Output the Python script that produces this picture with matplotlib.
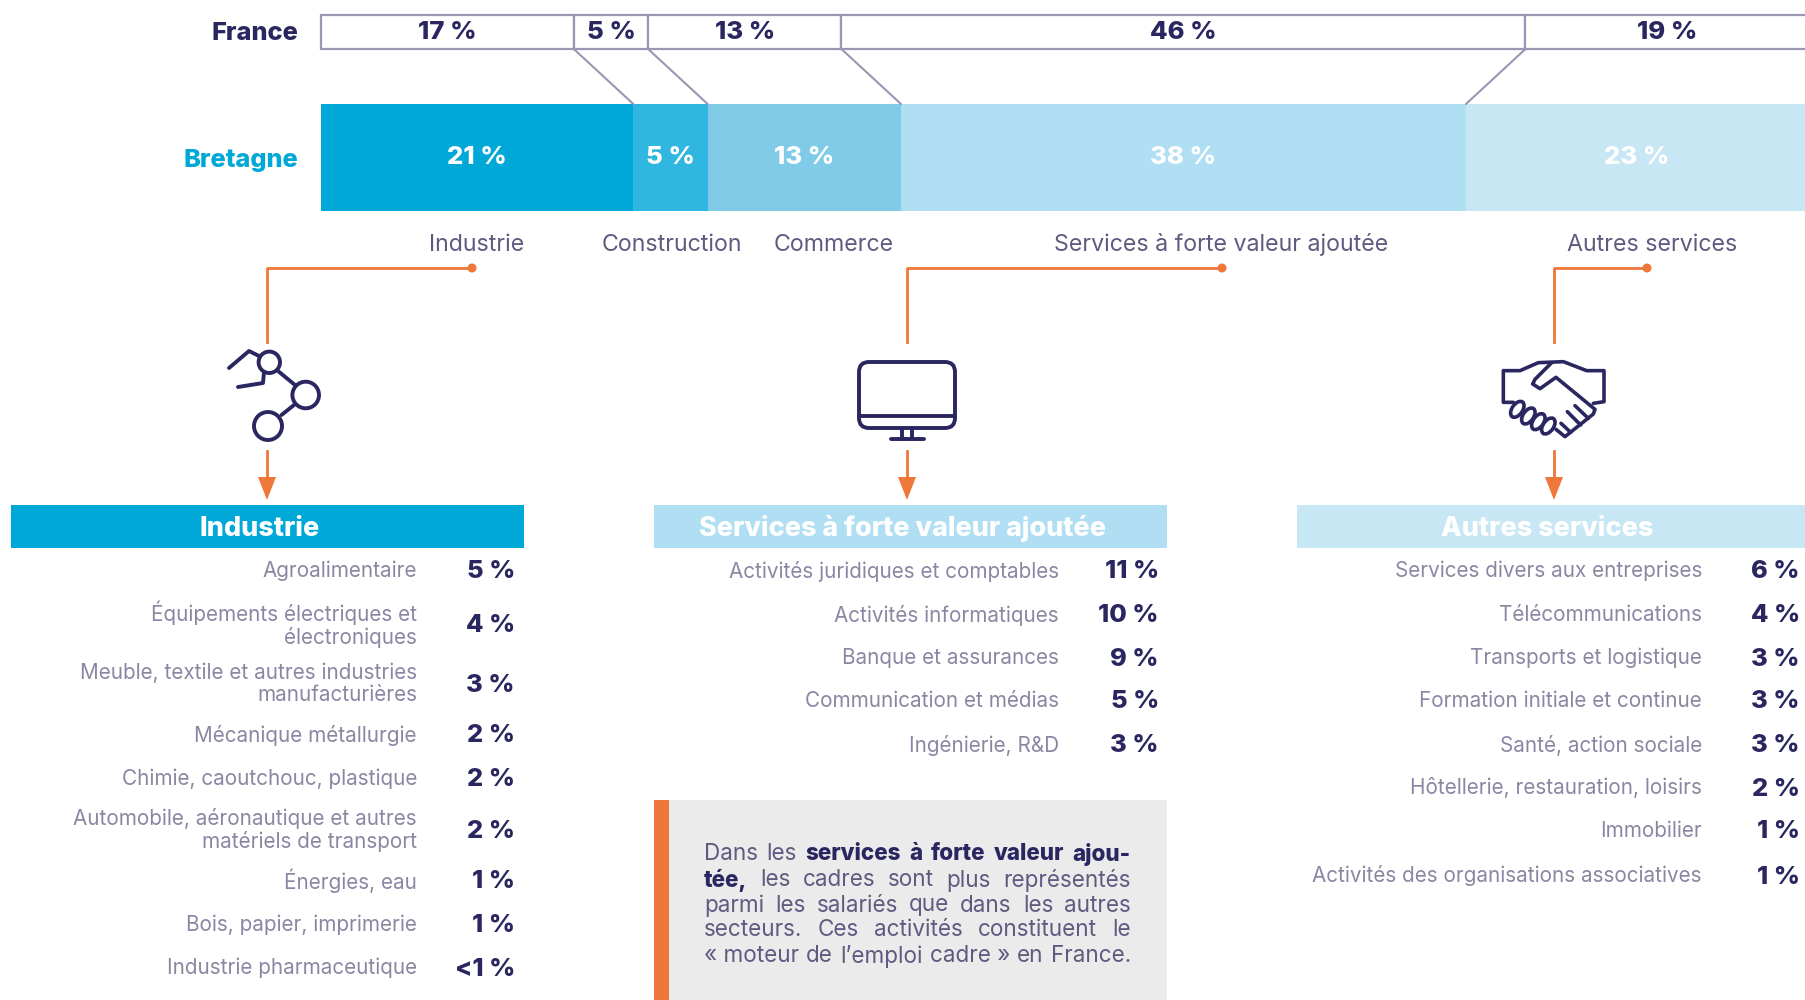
import matplotlib
matplotlib.use("Agg")
import matplotlib.pyplot as plt
from matplotlib.patches import Rectangle, Circle, FancyBboxPatch, Ellipse, Polygon

plt.rcParams["font.family"] = ["Inter", "DejaVu Sans"]

sectors = ["Industrie", "Construction", "Commerce", "Services à forte valeur ajoutée", "Autres services"]
france = [17, 5, 13, 46, 19]
bretagne = [21, 5, 13, 38, 23]
bretagne_colors = ["#00a8d8", "#2fb7e1", "#7fcbe8", "#b0dff3", "#c8e7f5"]

industrie_labels = ["Agroalimentaire", "Équipements électriques et\nélectroniques",
                    "Meuble, textile et autres industries\nmanufacturières", "Mécanique métallurgie",
                    "Chimie, caoutchouc, plastique", "Automobile, aéronautique et autres\nmatériels de transport",
                    "Énergies, eau", "Bois, papier, imprimerie", "Industrie pharmaceutique"]
industrie_values = ["5 %", "4 %", "3 %", "2 %", "2 %", "2 %", "1 %", "1 %", "<1 %"]
services_labels = ["Activités juridiques et comptables", "Activités informatiques", "Banque et assurances",
                   "Communication et médias", "Ingénierie, R&D"]
services_values = ["11 %", "10 %", "9 %", "5 %", "3 %"]
autres_labels = ["Services divers aux entreprises", "Télécommunications", "Transports et logistique",
                 "Formation initiale et continue", "Santé, action sociale", "Hôtellerie, restauration, loisirs",
                 "Immobilier", "Activités des organisations associatives"]
autres_values = ["6 %", "4 %", "3 %", "3 %", "3 %", "2 %", "1 %", "1 %"]

DARK = "#2a2660"
GREY = "#8a87a3"
MID = "#5f5b80"
ORANGE = "#f0773a"
EDGE = "#9a96b3"

fig = plt.figure(figsize=(18.06, 10), dpi=100)

# axe en pixels pour tout ce qui est mise en page
ax = fig.add_axes([0, 0, 1, 1])
ax.set_xlim(0, 1806)
ax.set_ylim(1000, 0)
ax.axis("off")

# barres empilees : 0-100 % couvre 321 a 1808 px
bx = fig.add_axes([321 / 1806, 0, 1487 / 1806, 1])
bx.set_xlim(0, 100)
bx.set_ylim(1000, 0)
bx.axis("off")
bx.patch.set_alpha(0)

left = 0
for v in france:
    bx.barh(32, v, left=left, height=34, color="white", edgecolor=EDGE, linewidth=1.6, clip_on=False)
    bx.text(left + v / 2, 32.5, f"{v} %", ha="center", va="center", fontsize=18.5, fontweight=800, color=DARK)
    left += v
left = 0
for v, c in zip(bretagne, bretagne_colors):
    bx.barh(157.5, v, left=left, height=107, color=c, linewidth=0)
    bx.text(left + v / 2, 157, f"{v} %", ha="center", va="center", fontsize=18.5, fontweight=800, color="white")
    left += v

# liens entre les deux barres
cf = 0
cb = 0
for vf, vb in zip(france[:-1], bretagne[:-1]):
    cf += vf
    cb += vb
    bx.plot([cf, cb], [49, 104], color=EDGE, linewidth=1.5, solid_capstyle="round")

ax.text(298, 34, "France", ha="right", va="center", fontsize=18.3, fontweight=800, color=DARK)
ax.text(298, 161, "Bretagne", ha="right", va="center", fontsize=18.3, fontweight=800, color="#00a8d8")

sector_x = [477, 672, 834, 1221, 1652]
for name, x in zip(sectors, sector_x):
    ax.text(x, 245, name, ha="center", va="center", fontsize=16.7, color=MID)


def connector(x0, x1):
    ax.plot([x1, x0, x0], [268, 268, 342], color=ORANGE, linewidth=2)
    ax.add_patch(Circle((x1, 268), 4.5, color=ORANGE, lw=0))
    ax.plot([x0, x0], [451, 480], color=ORANGE, linewidth=2)
    ax.add_patch(Polygon([(x0 - 9, 477), (x0 + 9, 477), (x0, 500)], closed=True, color=ORANGE, lw=0))


connector(267, 472)
connector(907, 1222)
connector(1554, 1647)


def stroke(pts, lw=2.8):
    ax.plot([p[0] for p in pts], [p[1] for p in pts], color=DARK, linewidth=lw,
            solid_capstyle="round", solid_joinstyle="round")


def circle(x, y, r):
    ax.add_patch(Circle((x, y), r, fill=False, edgecolor=DARK, linewidth=2.8))


# icone industrie
circle(269.3, 362.3, 10.7)
circle(305.7, 395, 13.3)
circle(268, 426, 14)
stroke([(278, 371), (295, 385)])
stroke([(281.5, 415), (294, 405)])
stroke([(229, 368), (249, 351), (259, 356)])
stroke([(238, 387), (263, 383), (264, 372)])

# icone ecran
ax.add_patch(FancyBboxPatch((859, 362), 96, 66, boxstyle="round,pad=0,rounding_size=10", fill=False,
                            edgecolor=DARK, linewidth=2.8))
stroke([(859, 416), (955, 416)])
stroke([(901.7, 428), (901.7, 439)])
stroke([(912.3, 428), (912.3, 439)])
stroke([(891, 439), (924, 439)])


# icone poignee de main : repere du zoom, 3x
def hs(pts):
    stroke([(1480 + x / 3, 340 + y / 3) for x, y in pts], lw=2.6)


hs([(100, 187), (70, 187), (70, 92), (120, 92), (175, 68), (250, 65), (320, 92), (372, 92), (372, 185), (340, 190)])
hs([(215, 68), (165, 118), (158, 132), (180, 146), (228, 112), (345, 208), (340, 222), (255, 290), (228, 268)])
hs([(285, 197), (325, 235)])
hs([(262, 215), (302, 255)])
hs([(243, 250), (272, 277)])
for fx, fy in [(112, 208), (145, 228), (175, 245), (205, 258)]:
    ax.add_patch(Ellipse((1480 + fx / 3, 340 + fy / 3), 10.5, 18, angle=35, fill=False, edgecolor=DARK, linewidth=2.6))


def column(box_x, title, title_x, color, labels, values, rows, label_right, value_right, box_right):
    ax.add_patch(Rectangle((box_x, 505), box_right - box_x, 43, color=color, lw=0))
    ax.text(title_x, 529, title, ha="center", va="center", fontsize=19.4, fontweight=800, color="white")
    for lab, val, y in zip(labels, values, rows):
        ax.text(label_right, y + 1, lab, ha="right", va="center", fontsize=14.9, color=GREY, linespacing=1.1)
        ax.text(value_right, y + 2, val, ha="right", va="center", fontsize=18.3, fontweight=800, color=DARK)


column(11, "Industrie", 260, bretagne_colors[0], industrie_labels, industrie_values,
       [570, 623, 683, 734, 778, 829, 880, 924, 967], 417, 515, 524)
column(654, "Services à forte valeur ajoutée", 903, bretagne_colors[3], services_labels, services_values,
       [570, 614, 657, 700, 744], 1059, 1159, 1167)
column(1297, "Autres services", 1547, bretagne_colors[4], autres_labels, autres_values,
       [570, 614, 657, 700, 744, 787, 830, 875], 1702, 1800, 1806)

# encadre
ax.add_patch(Rectangle((654, 800), 513, 200, color="#ebebec", lw=0))
ax.add_patch(Rectangle((654, 800), 15, 200, color=ORANGE, lw=0))

callout = [
    ([("Dans", 0), ("les", 0), ("services", 1), ("à", 1), ("forte", 1), ("valeur", 1), ("ajou-", 1)], 852),
    ([("tée,", 1), ("les", 0), ("cadres", 0), ("sont", 0), ("plus", 0), ("représentés", 0)], 878),
    ([("parmi", 0), ("les", 0), ("salariés", 0), ("que", 0), ("dans", 0), ("les", 0), ("autres", 0)], 903),
    ([("secteurs.", 0), ("Ces", 0), ("activités", 0), ("constituent", 0), ("le", 0)], 928),
    ([("« moteur", 0), ("de", 0), ("l’emploi", 0), ("cadre »", 0), ("en", 0), ("France.", 0)], 954),
]
renderer = fig.canvas.get_renderer()
for words, y in callout:
    items = []
    for w, b in words:
        t = ax.text(0, y, w, ha="left", va="center_baseline", fontsize=16.2,
                    fontweight=800 if b else "normal", color=DARK if b else MID)
        items.append((t, t.get_window_extent(renderer).width))
    gap = (1131 - 704 - sum(i[1] for i in items)) / (len(items) - 1)
    x = 704
    for t, w in items:
        t.set_x(x)
        x += w + gap

fig.savefig("out.png", dpi=100)
